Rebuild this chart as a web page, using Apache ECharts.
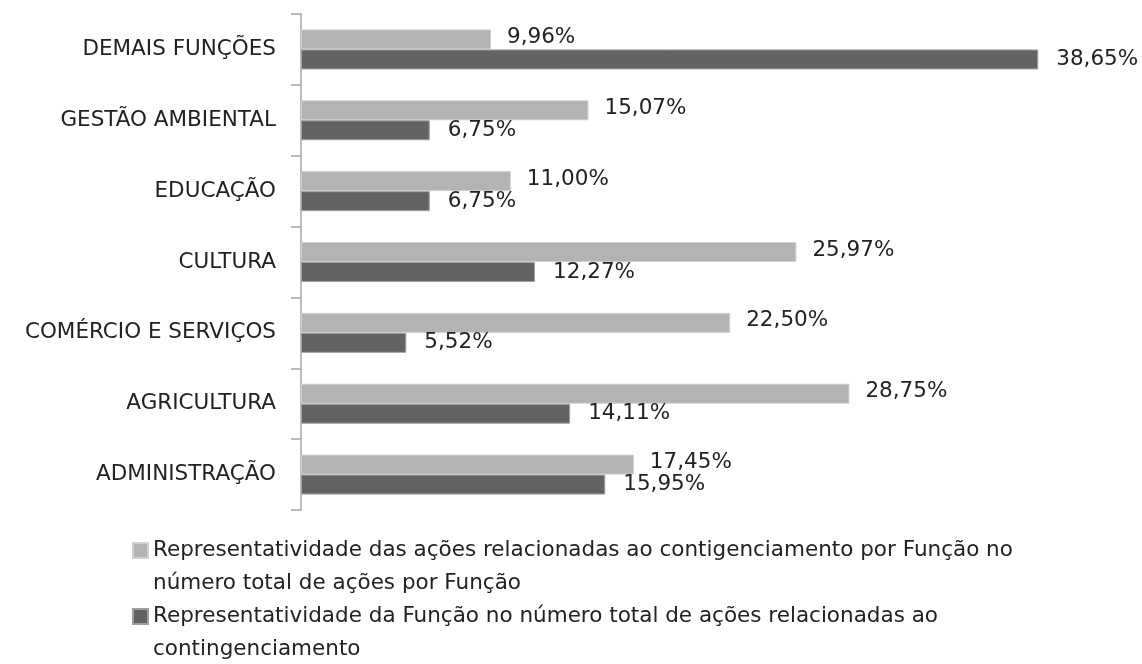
<!DOCTYPE html>
<html><head><meta charset="utf-8">
<script src="https://cdn.jsdelivr.net/npm/echarts@6/dist/echarts.min.js"></script>
<style>html,body{margin:0;padding:0;background:#fff}#c{width:1142px;height:664px}</style>
</head><body><div id="c"></div>
<script>
const categories = ['ADMINISTRAÇÃO','AGRICULTURA','COMÉRCIO E SERVIÇOS','CULTURA','EDUCAÇÃO','GESTÃO AMBIENTAL','DEMAIS FUNÇÕES'];
const seriesNames = [
  'Representatividade das ações relacionadas ao contigenciamento por Função no\nnúmero total de ações por Função',
  'Representatividade da Função no número total de ações relacionadas ao\ncontingenciamento'
];
const lightValues = [17.45, 28.75, 22.50, 25.97, 11.00, 15.07, 9.96];
const darkValues  = [15.95, 14.11, 5.52, 12.27, 6.75, 6.75, 38.65];

const font = 'DejaVu Sans';
const fs = 21.5;
const fmt = p => p.value.toFixed(2).replace('.', ',') + '%';
const chart = echarts.init(document.getElementById('c'));
chart.setOption({
  animation: false,
  backgroundColor: '#fff',
  textStyle: { fontFamily: font },
  grid: { left: 301, top: 14, width: 763, height: 496, containLabel: false },
  xAxis: { type: 'value', min: 0, max: 40, show: false },
  yAxis: {
    type: 'category', data: categories,
    axisLine: { show: true, lineStyle: { color: '#a6a6a6', width: 1.5 } },
    axisTick: { show: true, length: 10, lineStyle: { color: '#a6a6a6', width: 1.5 } },
    axisLabel: { margin: 25, color: '#222', fontSize: fs, fontFamily: font }
  },
  legend: [
    { data: [seriesNames[0]], orient: 'vertical', left: 127, top: 496,
      itemWidth: 15, itemHeight: 15, icon: 'rect', itemGap: 0,
      formatter: n => '\n' + n,
      textStyle: { fontSize: fs, lineHeight: 33, color: '#222', fontFamily: font } },
    { data: [seriesNames[1]], orient: 'vertical', left: 127, top: 562,
      itemWidth: 15, itemHeight: 15, icon: 'rect', itemGap: 0,
      formatter: n => '\n' + n,
      textStyle: { fontSize: fs, lineHeight: 33, color: '#222', fontFamily: font } }
  ],
  series: [
    { name: seriesNames[0], type: 'bar', data: lightValues, barWidth: 20, barGap: '0%',
      itemStyle: { color: '#b3b3b3', borderColor: '#d0d0d0', borderWidth: 1 },
      label: { show: true, position: 'right', distance: 16, offset: [0, -2], formatter: fmt,
        fontSize: fs, color: '#222', fontFamily: font } },
    { name: seriesNames[1], type: 'bar', data: darkValues, barWidth: 20, barGap: '0%',
      itemStyle: { color: '#636363', borderColor: '#a0a0a0', borderWidth: 1 },
      label: { show: true, position: 'right', distance: 18, formatter: fmt,
        fontSize: fs, color: '#222', fontFamily: font } }
  ]
});
</script></body></html>
